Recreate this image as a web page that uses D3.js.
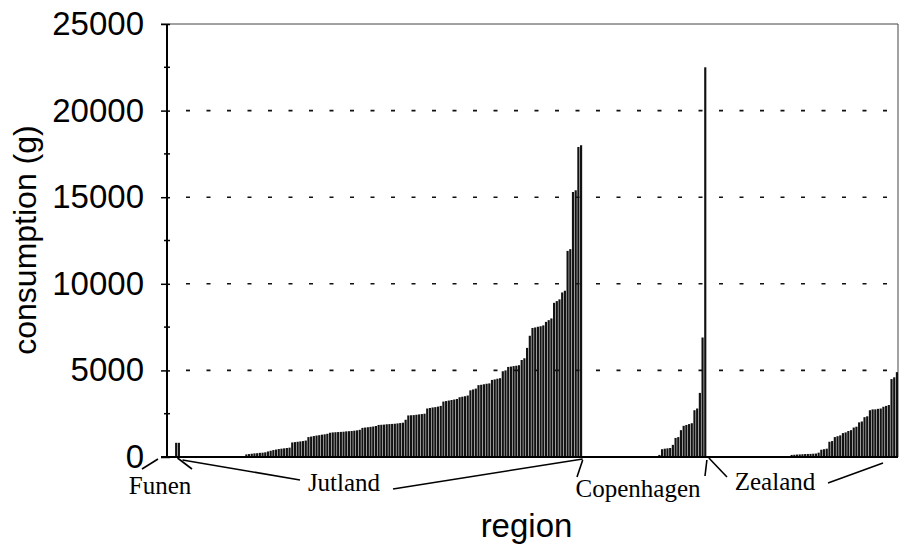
<!DOCTYPE html>
<html>
<head>
<meta charset="utf-8">
<script src="https://cdn.jsdelivr.net/npm/d3@7"></script>
<style>
  body { margin: 0; background: #fff; }
  svg { display: block; }
</style>
</head>
<body>
<svg width="907" height="547"></svg>
<script>
const regions = ["Funen", "Jutland", "Copenhagen", "Zealand"];

// consumption (g) per municipality, sorted within each region
const funen = [0, 0, 0, 820, 820];
const jutland = [
  0, 0, 0, 0, 0, 0, 0, 0, 0, 0, 0, 0, 0, 0, 0, 0, 0, 0, 0, 0, 0, 0, 0, 0,
  150, 170, 190, 210, 220, 240, 250, 270,
  320, 360, 400, 430, 460, 480, 500, 520, 540,
  840, 860, 880, 900, 920, 950,
  1150, 1180, 1210, 1240, 1260, 1290, 1310, 1340,
  1400, 1420, 1430, 1440, 1450, 1460, 1480, 1490, 1500, 1520, 1540, 1570,
  1680, 1700, 1720, 1740, 1760, 1790,
  1850, 1860, 1870, 1890, 1900, 1910, 1920, 1940, 1960, 1980,
  2150,
  2400, 2410, 2420, 2440, 2460, 2480, 2500,
  2800, 2830, 2860, 2880, 2910, 2950,
  3200, 3230, 3260, 3290, 3320, 3350,
  3450, 3480, 3510, 3550,
  3850, 3900, 3950,
  4150, 4170, 4200, 4230, 4250,
  4450, 4480, 4520, 4550,
  4950, 5000,
  5200, 5220, 5250, 5270, 5300,
  5600, 5700, 6300, 7000,
  7450, 7480, 7520, 7550, 7600,
  7800, 7900, 8000,
  8900, 9000, 9100,
  9500, 9600, 11900, 12000, 15300, 15400, 17900, 18000
];
const copenhagen = [
  0, 0, 0, 0, 0, 0, 0, 0, 0, 0, 0, 0, 0, 0, 0, 0, 0, 0, 0, 0, 0, 0, 0, 0, 0, 0, 0, 0,
  120, 450, 480, 500, 520, 700, 1100, 1150, 1550, 1800, 1850, 1900, 1950,
  2700, 2800, 3700, 6900, 22500
];
const zealand = [
  0, 0, 0, 0, 0, 0, 0, 0, 0, 0, 0, 0, 0, 0, 0, 0, 0, 0, 0, 0, 0, 0, 0, 0, 0, 0, 0, 0, 0,
  40, 50,
  120, 130, 140, 150, 160, 170, 175, 180, 190, 200,
  250, 420, 450, 480, 880, 920, 1150, 1200, 1250,
  1380, 1420, 1500, 1550, 1700, 1750, 2000, 2050, 2300, 2350,
  2700, 2750, 2750, 2780, 2800, 2900, 2950, 3000,
  4500, 4600, 4900
];

const yTicks = [0, 5000, 10000, 15000, 20000, 25000];
const yMinorTicks = [2500, 7500, 12500, 17500, 22500];
const gridValues = [5000, 10000, 15000, 20000];

const svg = d3.select("svg");
const plotLeft = 167, plotRight = 898, plotTop = 24, plotBottom = 457;

const bars = [funen, jutland, copenhagen, zealand]
  .flatMap((vals, g) => vals.map(v => ({region: regions[g], value: v})));
bars.forEach((d, i) => d.i = i);

const x = d3.scaleBand().domain(d3.range(bars.length)).range([plotLeft, plotRight]).paddingInner(0.2);
const y = d3.scaleLinear().domain([0, 25000]).range([plotBottom, plotTop]);

// region boundaries in pixels
let acc = 0;
const edges = [plotLeft];
[funen, jutland, copenhagen, zealand].forEach(vals => {
  acc += vals.length;
  edges.push(acc < bars.length ? x(acc) : plotRight);
});

// frame + dotted grid
svg.append("path")
  .attr("d", `M${plotLeft - 6},${plotTop}H${plotRight}V${plotBottom}`)
  .attr("fill", "none")
  .attr("stroke", "#444")
  .attr("stroke-width", 1);

svg.append("g")
  .selectAll("line")
  .data(gridValues).enter()
  .append("line")
  .attr("x1", plotLeft + 19)
  .attr("x2", plotRight)
  .attr("y1", d => y(d))
  .attr("y2", d => y(d))
  .attr("stroke", "#111")
  .attr("stroke-width", 1.6)
  .attr("stroke-dasharray", "4,16.5");

// bars
svg.append("g")
  .attr("fill", "#121212")
  .selectAll("rect")
  .data(bars.filter(d => d.value > 0)).enter()
  .append("rect")
  .attr("x", d => x(d.i))
  .attr("width", x.bandwidth())
  .attr("y", d => y(d.value))
  .attr("height", d => plotBottom - y(d.value));

// axes
const yAxis = svg.append("g")
  .attr("transform", `translate(${plotLeft},0)`)
  .call(d3.axisLeft(y).tickValues(yTicks).tickSize(6).tickPadding(17).tickFormat(d3.format("d")));
yAxis.select(".domain").remove();
yAxis.selectAll(".tick line").attr("x2", 3).attr("x1", -6).attr("stroke-width", 1.5);
yAxis.selectAll(".tick text")
  .attr("font-family", "'Liberation Sans', Arial, Helvetica, sans-serif")
  .attr("font-size", 33)
  .attr("fill", "#000");

svg.append("g")
  .selectAll("line")
  .data(yMinorTicks).enter()
  .append("line")
  .attr("x1", plotLeft - 3)
  .attr("x2", plotLeft + 3)
  .attr("y1", d => y(d))
  .attr("y2", d => y(d))
  .attr("stroke", "#000")
  .attr("stroke-width", 1.5);

svg.append("line")
  .attr("x1", plotLeft).attr("x2", plotLeft)
  .attr("y1", plotTop).attr("y2", plotBottom)
  .attr("stroke", "#000").attr("stroke-width", 2);
svg.append("line")
  .attr("x1", plotLeft - 6).attr("x2", plotRight)
  .attr("y1", plotBottom).attr("y2", plotBottom)
  .attr("stroke", "#000").attr("stroke-width", 2);

// axis titles
svg.append("text")
  .attr("transform", "translate(36,240) rotate(-90)")
  .attr("text-anchor", "middle")
  .attr("font-family", "'Liberation Sans', Arial, Helvetica, sans-serif")
  .attr("font-size", 32)
  .text("consumption (g)");
svg.append("text")
  .attr("x", (plotLeft + plotRight) / 2 - 6)
  .attr("y", 537)
  .attr("text-anchor", "middle")
  .attr("font-family", "'Liberation Sans', Arial, Helvetica, sans-serif")
  .attr("font-size", 33)
  .text("region");

// region labels with leader lines to the group boundaries
const labelPos = [[160, 494], [344, 491], [638, 497], [775, 490]];
svg.append("g")
  .attr("font-family", "'Liberation Serif', 'Times New Roman', serif")
  .attr("font-size", 25)
  .attr("text-anchor", "middle")
  .selectAll("text")
  .data(regions).enter()
  .append("text")
  .attr("x", (d, i) => labelPos[i][0])
  .attr("y", (d, i) => labelPos[i][1])
  .text(d => d);

const leaders = [
  [142, 469, edges[0] - 9, 459],
  [192, 469, edges[1] - 3, 458],
  [300, 480, edges[1] + 2, 460],
  [393, 489, edges[2], 459],
  [577, 477, edges[2], 460],
  [705, 476, edges[3], 460],
  [727, 477, edges[3] + 2, 458],
  [828, 483, edges[4] - 15, 463]
];
svg.append("g")
  .attr("stroke", "#000")
  .attr("stroke-width", 1.6)
  .selectAll("line")
  .data(leaders).enter()
  .append("line")
  .attr("x1", d => d[0]).attr("y1", d => d[1])
  .attr("x2", d => d[2]).attr("y2", d => d[3]);
</script>
</body>
</html>
